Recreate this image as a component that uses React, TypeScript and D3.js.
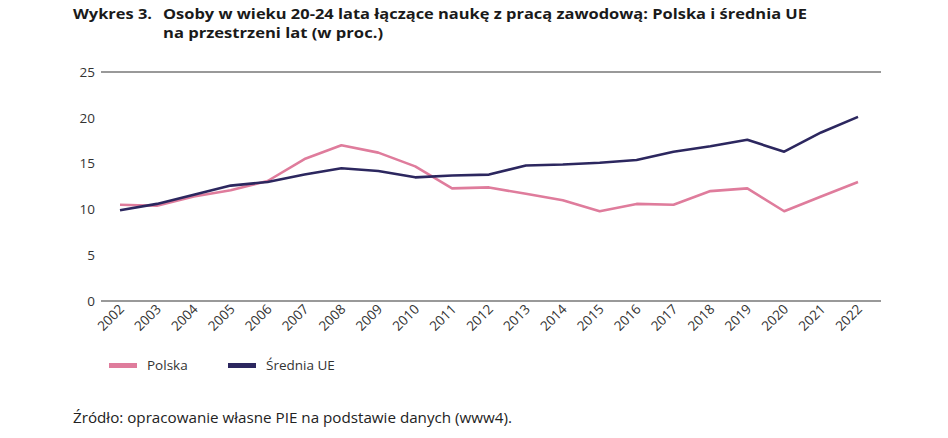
import React, { useEffect, useRef } from 'react';
import * as d3 from 'd3';

const years = ['2002', '2003', '2004', '2005', '2006', '2007', '2008', '2009', '2010', '2011', '2012',
  '2013', '2014', '2015', '2016', '2017', '2018', '2019', '2020', '2021', '2022'];
const polska = [10.5, 10.4, 11.4, 12.1, 13.1, 15.5, 17.0, 16.2, 14.7, 12.3, 12.4,
  11.7, 11.0, 9.8, 10.6, 10.5, 12.0, 12.3, 9.8, 11.4, 13.0];
const sredniaUE = [9.9, 10.6, 11.6, 12.6, 13.0, 13.8, 14.5, 14.2, 13.5, 13.7, 13.8,
  14.8, 14.9, 15.1, 15.4, 16.3, 16.9, 17.6, 16.3, 18.4, 20.1];
const yTicks = [0, 5, 10, 15, 20, 25];

const PINK = '#df7c9c';
const NAVY = '#2c275f';
const FONT = '"Open Sans", Roboto, sans-serif';

const App: React.FC = () => {
  const svgRef = useRef<SVGSVGElement>(null);

  useEffect(() => {
    if (!svgRef.current) return;
    const svg = d3.select(svgRef.current);
    svg.selectAll('*').remove();

    const x = d3.scalePoint<string>().domain(years).range([120, 858]);
    const y = d3.scaleLinear().domain([0, 25]).range([301, 72]);

    // title
    const titleText = (tx: number, ty: number, s: string, len?: number) => {
      const t = svg.append('text')
        .attr('x', tx).attr('y', ty)
        .attr('font-family', FONT)
        .attr('font-weight', 'bold')
        .attr('font-size', 14)
        .attr('fill', '#1a1a1a')
        .text(s);
      if (len) t.attr('textLength', len).attr('lengthAdjust', 'spacingAndGlyphs');
    };
    titleText(73, 19, 'Wykres 3.', 79);
    titleText(163, 19, 'Osoby w wieku 20-24 lata łączące naukę z pracą zawodową: Polska i średnia UE', 644);
    titleText(163, 38, 'na przestrzeni lat (w proc.)', 220);

    // top and bottom rules
    [0, 25].forEach(v => {
      svg.append('line')
        .attr('x1', 101).attr('x2', 881)
        .attr('y1', y(v)).attr('y2', y(v))
        .attr('stroke', '#777').attr('stroke-width', 1.3);
    });

    // y labels
    svg.append('g').selectAll('text').data(yTicks).join('text')
      .attr('x', 95).attr('y', d => y(d)).attr('dy', '0.35em')
      .attr('text-anchor', 'end')
      .attr('font-family', FONT).attr('font-size', 13.5).attr('fill', '#333')
      .text(d => d);

    // x labels
    svg.append('g').selectAll('text').data(years).join('text')
      .attr('transform', d => `translate(${(x(d) as number) + 5},${310}) rotate(-45)`)
      .attr('text-anchor', 'end')
      .attr('font-family', FONT).attr('font-size', 13.5).attr('fill', '#333')
      .text(d => d);

    const line = d3.line<number>()
      .x((_, i) => x(years[i]) as number)
      .y(d => y(d));

    svg.append('path').datum(polska)
      .attr('d', line).attr('fill', 'none')
      .attr('stroke', PINK).attr('stroke-width', 2.6).attr('stroke-linejoin', 'round');
    svg.append('path').datum(sredniaUE)
      .attr('d', line).attr('fill', 'none')
      .attr('stroke', NAVY).attr('stroke-width', 2.6).attr('stroke-linejoin', 'round');

    // legend
    const legend = [
      { label: 'Polska', color: PINK, x: 109 },
      { label: 'Średnia UE', color: NAVY, x: 228 },
    ];
    legend.forEach(l => {
      svg.append('rect')
        .attr('x', l.x).attr('y', 363).attr('width', 28).attr('height', 5)
        .attr('fill', l.color);
      svg.append('text')
        .attr('x', l.x + 38).attr('y', 365.5).attr('dy', '0.35em')
        .attr('font-family', FONT).attr('font-size', 13.5).attr('fill', '#333')
        .text(l.label);
    });

    // source
    svg.append('text')
      .attr('x', 73).attr('y', 423)
      .attr('font-family', FONT).attr('font-size', 14).attr('fill', '#222')
      .attr('textLength', 439).attr('lengthAdjust', 'spacingAndGlyphs')
      .text('Źródło: opracowanie własne PIE na podstawie danych (www4).');
  }, []);

  return (
    <div style={{ position: 'absolute', left: 0, top: 0 }}>
      <svg ref={svgRef} width={948} height={438} style={{ display: 'block', background: '#fff' }} />
    </div>
  );
};

export default App;
